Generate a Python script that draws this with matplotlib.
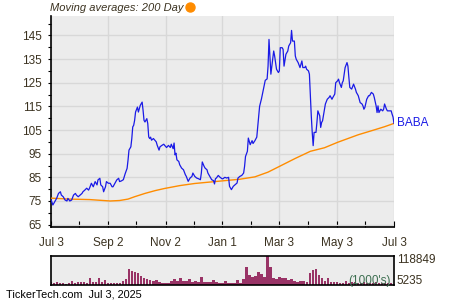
import matplotlib
matplotlib.use("Agg")
import matplotlib.pyplot as plt
from matplotlib.lines import Line2D
from matplotlib.ticker import MultipleLocator
import pandas as pd

plt.rcParams['font.family'] = ['Liberation Sans', 'DejaVu Sans']

# BABA closing price (days after Jul 3, 2024)
start = pd.Timestamp("2024-07-03")
price_days = [0, 1, 2, 4, 6, 8, 10, 11, 13, 15, 17, 18, 20, 22, 24, 26, 27, 29, 31, 33,
              34, 36, 38, 40, 41, 43, 45, 47, 49, 50, 52, 53, 55, 56, 58, 59, 61, 63, 65, 66,
              68, 70, 72, 73, 75, 77, 79, 81, 82, 83, 85, 86, 87, 88, 89, 90, 92, 93, 94, 95,
              97, 98, 99, 100, 102, 103, 104, 105, 106, 107, 109, 112, 113, 115, 116, 118, 120, 121, 123, 125,
              127, 128, 130, 131, 132, 133, 134, 136, 137, 139, 141, 143, 144, 146, 148, 150, 151, 153, 155, 157,
              159, 160, 161, 163, 164, 166, 167, 168, 169, 171, 173, 174, 175, 176, 178, 180, 182, 183, 185, 187,
              189, 190, 192, 194, 196, 198, 199, 201, 203, 205, 206, 207, 209, 210, 212, 214, 215, 217, 219, 221,
              222, 224, 226, 228, 230, 231, 232, 234, 235, 237, 238, 240, 242, 243, 244, 246, 247, 248, 250, 252,
              253, 255, 256, 257, 259, 260, 261, 263, 265, 267, 268, 270, 271, 272, 274, 275, 276, 277, 278, 279,
              280, 282, 283, 284, 286, 287, 288, 289, 291, 292, 294, 296, 297, 299, 300, 302, 303, 305, 306, 307,
              309, 310, 311, 312, 313, 315, 316, 317, 318, 320, 322, 324, 325, 327, 329, 331, 332, 333, 334, 336,
              338, 339, 341, 343, 344, 346, 347, 348, 349, 351, 353, 354, 355, 357, 358, 360, 362, 363, 364, 365]
price = [75.5, 74.5, 73.3, 74.7, 76.1, 78.2, 78.9, 77.5, 76.8, 75.4, 75.0, 76.1, 75.0, 75.4, 77.5, 78.2, 77.5, 76.8, 77.5, 78.2,
         78.9, 79.6, 80.4, 79.6, 80.4, 82.5, 81.0, 83.2, 81.8, 83.9, 84.6, 81.8, 81.0, 78.9, 81.0, 83.2, 82.5, 82.5, 81.0, 81.0,
         82.5, 83.9, 84.6, 83.2, 83.5, 84.0, 86.6, 88.8, 92.3, 96.5, 97.9, 101.4, 106.3, 107.0, 109.1, 112.6, 114.7, 112.6, 114.0, 115.4,
         116.8, 113.3, 109.1, 108.4, 109.8, 107.7, 102.1, 101.4, 102.0, 100.7, 101.4, 100.0, 98.6, 96.5, 97.9, 98.5, 99.0, 98.5, 97.6, 98.5,
         97.6, 99.0, 97.1, 99.5, 94.5, 95.2, 92.4, 91.7, 90.3, 88.9, 88.2, 86.1, 85.4, 83.3, 84.7, 85.4, 86.8, 85.4, 84.7, 84.4,
         84.0, 86.8, 91.5, 89.6, 88.9, 88.2, 86.8, 86.1, 85.4, 84.0, 83.6, 82.2, 84.4, 84.7, 85.8, 85.0, 84.4, 84.4, 85.0, 84.7,
         85.0, 81.2, 79.8, 81.2, 81.9, 82.6, 84.7, 85.4, 85.8, 86.8, 89.6, 93.8, 96.0, 101.6, 98.8, 100.5, 99.3, 100.5, 102.0, 111.0,
         115.0, 118.2, 122.0, 126.0, 126.6, 132.0, 143.3, 128.6, 132.0, 138.4, 136.3, 130.7, 129.3, 130.0, 139.8, 139.8, 139.1, 132.0, 137.0, 138.4,
         140.5, 141.9, 147.1, 142.6, 142.6, 136.3, 134.9, 133.5, 131.4, 134.2, 131.4, 131.4, 132.0, 130.7, 130.0, 128.6, 119.5, 111.0, 104.0, 98.4,
         104.0, 104.0, 108.2, 113.1, 111.0, 106.1, 108.2, 108.9, 113.8, 116.0, 118.0, 118.8, 119.5, 118.0, 118.8, 120.2, 125.0, 125.8, 126.5, 125.0,
         123.0, 125.0, 125.8, 128.6, 131.4, 133.5, 132.0, 127.2, 123.0, 122.3, 124.4, 122.3, 120.9, 119.5, 116.6, 116.0, 115.2, 113.8, 114.5, 118.0,
         119.5, 119.5, 120.9, 120.2, 118.8, 115.2, 112.4, 115.2, 112.4, 113.8, 113.1, 113.8, 116.0, 113.8, 113.1, 113.1, 113.1, 111.7, 110.5, 107.8]

# 200 day moving average
ma_days = [0, 20, 41, 52, 63, 73, 82, 89, 100, 111, 121, 137, 153, 169, 185, 201, 217, 231, 246, 260,
           276, 291, 305, 327, 342, 355, 365]
ma200 = [76.2, 75.8, 75.6, 75.3, 75.0, 75.2, 75.8, 76.8, 78.2, 79.4, 80.3, 81.5, 82.4, 83.0, 83.6, 84.2, 85.2, 87.2, 90.2, 93.0,
         96.0, 97.5, 99.8, 103.0, 104.8, 106.4, 107.8]

# volume (1000's), roughly every 3 days
volume = [15800, 15000, 15800, 14200, 14200, 11100, 11900, 19000, 14200, 17000, 15800, 17000, 14200, 32700, 18200, 18200,
          30700, 17000, 24800, 14200, 13100, 13100, 14200, 13100, 19000, 28700, 67900, 60100, 56200, 52200, 40500, 34600,
          28700, 24800, 19000, 24800, 17000, 14200, 14200, 14200, 19000, 28700, 20900, 32700, 19000, 20900, 28700, 15800,
          19000, 15800, 37800, 15800, 15800, 15800, 26000, 17000, 13100, 14200, 22100, 14200, 14200, 14200, 24800, 14200,
          28700, 75800, 44400, 35400, 41700, 55000, 48300, 36600, 118849, 75800, 31500, 28700, 37800, 34600, 31500, 24800,
          28700, 19700, 18200, 22100, 19700, 15800, 52200, 64000, 67900, 44400, 32700, 20900, 30700, 17000, 17000, 15800,
          15000, 15000, 19000, 15000, 15800, 17000, 15000, 15000, 17000, 15000, 14200, 15000, 17000, 15000, 14200, 15000,
          13100, 14200, 11100]
vol_max, vol_min = 118849, 5235

tick_dates = ["2024-07-03", "2024-09-02", "2024-11-02", "2025-01-01", "2025-03-03", "2025-05-03", "2025-07-03"]
tick_labels = ["Jul 3", "Sep 2", "Nov 2", "Jan 1", "Mar 3", "May 3", "Jul 3"]
minor_dates = ["2024-08-02", "2024-10-02", "2024-12-02", "2025-02-01", "2025-04-02", "2025-06-02"]

price_dates = start + pd.to_timedelta(price_days, unit="D")
ma_dates = start + pd.to_timedelta(ma_days, unit="D")
end = pd.Timestamp("2025-07-03")
vol_dates = pd.date_range(start, end, periods=len(volume))

txt = '#3b3220'
bg = '#ececec'
fig = plt.figure(figsize=(4.5, 3), dpi=100)

ax = fig.add_axes([0.1133, 0.2433, 0.7622, 0.7034])
ax.set_facecolor(bg)
ax.plot(ma_dates, ma200, color='#ff8c00', lw=1.0, zorder=3)
ax.plot(price_dates, price, color='#1a1ae6', lw=0.9, zorder=4)
ax.set_xlim(start, end)
ax.set_ylim(64.0, 153.2)
ax.yaxis.set_major_locator(MultipleLocator(10, offset=5))
ax.yaxis.set_minor_locator(MultipleLocator(5))
ax.set_xticks(pd.to_datetime(tick_dates))
ax.set_xticklabels(tick_labels)
ax.set_xticks(pd.to_datetime(minor_dates), minor=True)
ax.grid(True, which='major', color='#d8d8d8', lw=1.0)
ax.set_axisbelow(True)
for s in ['top', 'right']:
    ax.spines[s].set_visible(False)
for s in ['left', 'bottom']:
    ax.spines[s].set_linewidth(1.2)
ax.tick_params(axis='y', which='both', direction='out', length=2.5, width=0.8, pad=4,
               labelsize=8.5, labelcolor=txt)
ax.tick_params(axis='x', which='both', direction='in', length=4, width=0.8, pad=7,
               labelsize=8.5, labelcolor=txt)
ax.text(1.008, price[-1], "BABA", transform=ax.get_yaxis_transform(), color='#1a1ae6',
        fontsize=8.5, va='center', ha='left')

vax = fig.add_axes([0.1133, 0.05, 0.7622, 0.0967])
vax.set_facecolor(bg)
vax.bar(vol_dates, volume, width=2.6, color='#993366', align='center')
vax.set_xlim(start, end)
vax.set_ylim(vol_min, vol_max)
vax.set_xticks([])
vax.set_yticks([])
for s in vax.spines.values():
    s.set_linewidth(1.2)
vax.text(1.008, 0.85, str(vol_max), transform=vax.transAxes, fontsize=8.5, color=txt,
         va='center', ha='left')
vax.text(1.008, 0.13, str(vol_min), transform=vax.transAxes, fontsize=8.5, color=txt,
         va='center', ha='left')
vax.text(0.99, 0.13, "(1000's)", transform=vax.transAxes, fontsize=8.5, color='#3c6e50',
         va='center', ha='right')

fig.text(0.111, 0.973, "Moving averages: 200 Day", fontsize=8, style='italic', color=txt,
         va='center', ha='left')
fig.add_artist(Line2D([0.422], [0.976], transform=fig.transFigure, marker='o', markersize=6.5,
                      color='#ff8c00', lw=0))
fig.text(0.013, 0.018, "TickerTech.com  Jul 3, 2025", fontsize=7.8, color='black',
         va='center', ha='left')

fig.savefig("out.png", dpi=100)
